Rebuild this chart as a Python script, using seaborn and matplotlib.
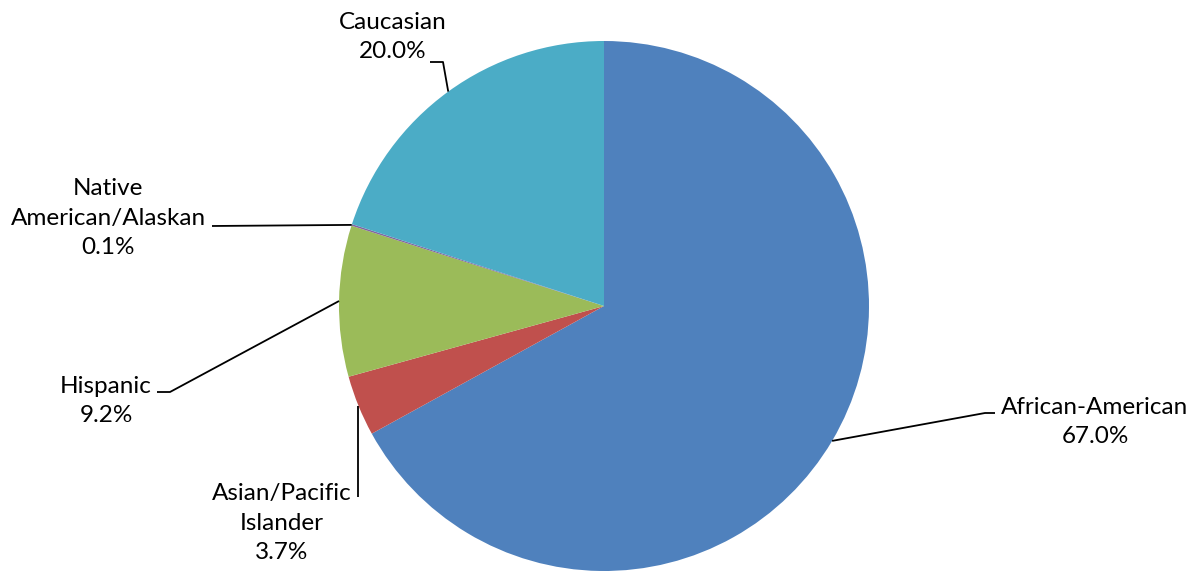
import matplotlib
matplotlib.use("Agg")
import matplotlib.pyplot as plt
import seaborn as sns
import numpy as np

categories = ["African-American", "Asian/Pacific\nIslander", "Hispanic",
              "Native\nAmerican/Alaskan", "Caucasian"]
values = [67.0, 3.7, 9.2, 0.1, 20.0]
colors = ["#4F81BD", "#C0504D", "#9BBB59", "#8064A2", "#4BACC6"]

sns.set_theme(style="white")
plt.rcParams['font.family'] = ['Lato', 'DejaVu Sans']

W, H = 1200, 572
fig = plt.figure(figsize=(12, 5.72), dpi=100)
ax = fig.add_axes([0, 0, 1, 1])

cx, cy, R = 604, H - 306, 265
wedges, _ = ax.pie(values, colors=colors, startangle=90, counterclock=False,
                   center=(cx, cy), radius=R, frame=True,
                   wedgeprops=dict(linewidth=0))
ax.set_xlim(0, W)
ax.set_ylim(0, H)
ax.set_aspect('equal')
ax.axis('off')

# label layout (pixel coords, y down): text centre, leader elbow points
layout = [
    dict(text=(1095, 422), path=[(985, 413), (995, 413)]),
    dict(text=(282, 523), path=[(358, 497)]),
    dict(text=(106, 401), path=[(170, 392), (157, 392)]),
    dict(text=(108, 218), path=[(212, 226)]),
    dict(text=(393, 37), path=[(443, 62), (430, 62)]),
]

for w, lab, v, L in zip(wedges, categories, values, layout):
    ang = np.deg2rad((w.theta1 + w.theta2) / 2)
    sx = cx + R * np.cos(ang)
    sy = cy + R * np.sin(ang)
    if lab.startswith("Asian"):
        sx = L["path"][0][0]
    xs = [sx] + [p[0] for p in L["path"]]
    ys = [sy] + [H - p[1] for p in L["path"]]
    ax.plot(xs, ys, color="black", lw=1.3, solid_capstyle="butt")
    ax.text(L["text"][0], H - L["text"][1], f"{lab}\n{v:.1f}%",
            ha="center", va="center", multialignment="center",
            fontsize=17.5, color="black", linespacing=1.48)

fig.savefig("out.png", dpi=100, facecolor="white")
